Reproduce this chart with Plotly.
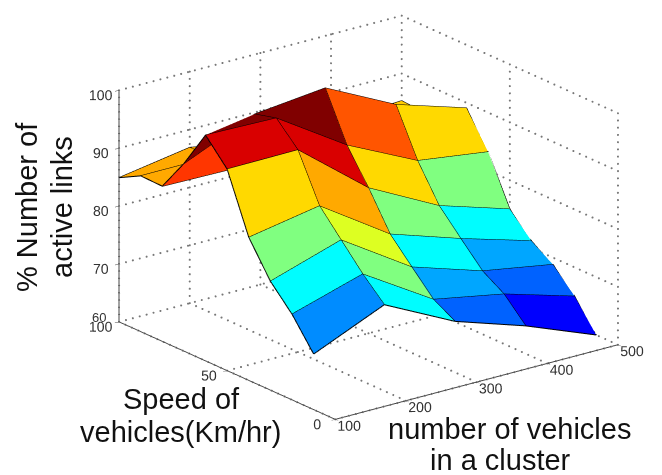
import numpy as np
import plotly.graph_objects as go

vehicles = [100, 200, 300, 400, 500]
speeds = [10, 20, 30, 40, 50, 60, 70, 80, 90, 100]
x_ticks = [100, 200, 300, 400, 500]
y_ticks = [0, 50, 100]
z_ticks = [60, 70, 80, 90, 100]

# rows: speed, columns: number of vehicles
active_links = [
    [69.6, 74.9, 68.8, 64.8, 60.0],
    [74.8, 78.5, 70.9, 68.6, 65.0],
    [78.8, 82.7, 74.8, 70.9, 68.8],
    [84.7, 86.9, 78.8, 74.8, 71.2],
    [94.8, 94.9, 85.1, 78.8, 75.0],
    [99.0, 98.7, 90.8, 84.9, 83.2],
    [92.4, 97.7, 99.0, 92.9, 89.1],
    [86.8, 86.6, 90.0, 90.0, 87.0],
    [86.9, 86.9, 87.0, 87.0, 85.0],
    [84.9, 86.9, 84.6, 84.6, 85.3],
]
# colour value of each facet (speed row, vehicles column)
facet_values = [
    [70.6, 75.0, 68.9, 65.0],
    [75.0, 80.0, 71.6, 68.9],
    [80.0, 83.6, 75.0, 71.6],
    [86.4, 88.3, 80.0, 75.0],
    [96.4, 96.4, 86.4, 80.0],
    [100.0, 100.0, 91.6, 86.4],
    [92.8, 100.0, 96.4, 88.3],
    [88.3, 88.3, 88.3, 88.3],
    [88.3, 88.3, 87.0, 87.0],
]

jet = [[0, "rgb(0,0,143)"], [0.125, "rgb(0,0,255)"], [0.375, "rgb(0,255,255)"],
       [0.625, "rgb(255,255,0)"], [0.875, "rgb(255,0,0)"], [1, "rgb(128,0,0)"]]

X, Y = np.meshgrid(vehicles, speeds)
Z = np.array(active_links)
F = np.array(facet_values)
nr, nc = Z.shape
idx = lambda r, c: r * nc + c
I, J, K, C = [], [], [], []
for r in range(nr - 1):
    for c in range(nc - 1):
        I += [idx(r, c), idx(r, c)]
        J += [idx(r, c + 1), idx(r + 1, c + 1)]
        K += [idx(r + 1, c + 1), idx(r + 1, c)]
        C += [F[r, c], F[r, c]]

fig = go.Figure()
fig.add_trace(go.Mesh3d(
    x=X.ravel(), y=Y.ravel(), z=Z.ravel(), i=I, j=J, k=K,
    intensity=C, intensitymode="cell", colorscale=jet, cmin=60, cmax=100,
    showscale=False, flatshading=True,
    lighting=dict(ambient=1, diffuse=0, specular=0, roughness=1, fresnel=0),
    hoverinfo="skip"))

def line3(xs, ys, zs):
    fig.add_trace(go.Scatter3d(x=xs, y=ys, z=zs, mode="lines",
                               line=dict(color="black", width=2),
                               showlegend=False, hoverinfo="skip"))

for r in range(nr):
    line3(X[r], Y[r], Z[r])
for c in range(nc):
    line3(X[:, c], Y[:, c], Z[:, c])

xmin, xmax = x_ticks[0], x_ticks[-1]
ymin, ymax = y_ticks[0], y_ticks[-1]
zmin, zmax = z_ticks[0], z_ticks[-1]

# dotted grid on the back walls and floor
gx, gy, gz = [], [], []
def dotted(p, q, count):
    gx.extend(np.linspace(p[0], q[0], count))
    gy.extend(np.linspace(p[1], q[1], count))
    gz.extend(np.linspace(p[2], q[2], count))
for xv in x_ticks:
    dotted((xv, ymin, zmin), (xv, ymax, zmin), 35)
    dotted((xv, ymax, zmin), (xv, ymax, zmax), 33)
for yv in y_ticks:
    dotted((xmin, yv, zmin), (xmax, yv, zmin), 42)
    dotted((xmax, yv, zmin), (xmax, yv, zmax), 33)
for zv in z_ticks:
    dotted((xmin, ymax, zv), (xmax, ymax, zv), 42)
    dotted((xmax, ymin, zv), (xmax, ymax, zv), 35)
fig.add_trace(go.Scatter3d(x=gx, y=gy, z=gz, mode="markers",
                           marker=dict(size=1.2, color="#777777", line=dict(width=0)),
                           showlegend=False, hoverinfo="skip"))

n = np.array([-0.570, -0.745, 0.345])
shift = np.array([0.0221, -0.0319, -0.0324])
eye = n * 2.5 + shift
tickfont = dict(family="Liberation Sans", size=13, color="#333333")
ax = dict(showbackground=False, showgrid=False, zeroline=False, showspikes=False,
          showline=True, linecolor="#444444", linewidth=2, tickangle=0,
          ticks="outside", ticklen=5, tickcolor="#444444", tickwidth=1, tickfont=tickfont,
          title=dict(text=""))
fig.update_layout(
    width=662, height=475, margin=dict(l=0, r=0, t=0, b=0),
    paper_bgcolor="white", showlegend=False,
    scene=dict(
        domain=dict(x=[0.113, 1], y=[0.086, 1]),
        aspectmode="manual", aspectratio=dict(x=1.64, y=1.64, z=1.137),
        xaxis=dict(ax, range=[xmin, xmax], tickvals=x_ticks),
        yaxis=dict(ax, range=[ymin, ymax], tickvals=y_ticks),
        zaxis=dict(ax, range=[zmin, zmax], tickvals=z_ticks,
                   ticktext=["" if t == zmin else str(t) for t in z_ticks]),
        camera=dict(projection=dict(type="orthographic"),
                    eye=dict(x=eye[0], y=eye[1], z=eye[2]),
                    up=dict(x=0, y=0, z=1),
                    center=dict(x=shift[0], y=shift[1], z=shift[2])),
        annotations=[dict(x=xmin, y=ymax, z=zmin, text=str(zmin), showarrow=False,
                          xshift=-20, yshift=4, font=tickfont)],
    ),
)
tf = dict(family="Liberation Sans", size=29, color="#111111")
def label(text, px, py, angle=0):
    fig.add_annotation(text=text, x=px / 662, y=1 - py / 475, xref="paper", yref="paper",
                       xanchor="center", yanchor="middle",
                       showarrow=False, font=tf, align="center", textangle=angle)
label("% Number of", 19, 199, -90)
label("active links", 54, 199, -90)
label("Speed of", 173, 391)
label("vehicles(Km/hr)", 172, 424)
label("number of vehicles", 501, 421)
label("in a cluster", 492, 452)

fig.write_html("out.html", config=dict(displayModeBar=False))
